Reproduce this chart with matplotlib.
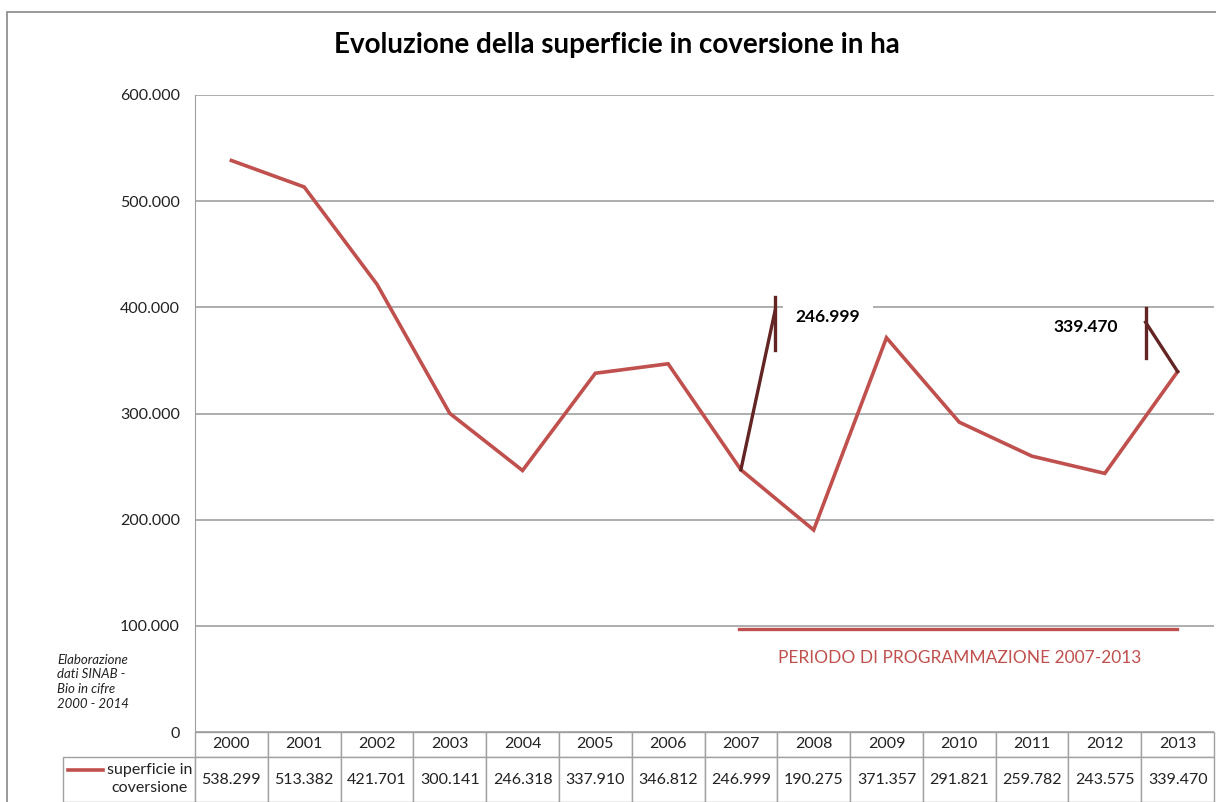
import matplotlib.pyplot as plt
from matplotlib.lines import Line2D
from matplotlib.patches import Rectangle

plt.rcParams['font.family'] = ['Lato', 'DejaVu Sans']

# Data
years = ['2000', '2001', '2002', '2003', '2004', '2005', '2006',
         '2007', '2008', '2009', '2010', '2011', '2012', '2013']
values = [538299, 513382, 421701, 300141, 246318, 337910, 346812,
          246999, 190275, 371357, 291821, 259782, 243575, 339470]
series_name = 'superficie in\ncoversione'
title = 'Evoluzione della superficie in coversione in ha'
period_label = 'PERIODO DI PROGRAMMAZIONE 2007-2013'
source_note = 'Elaborazione\ndati SINAB -\nBio in cifre\n2000 - 2014'

W, H = 1216, 802
fig = plt.figure(figsize=(W / 100, H / 100), dpi=100)
# axes placed in pixel terms
left, right, top, bottom = 195, 1214, 95, 732
ax = fig.add_axes([left / W, 1 - bottom / H, (right - left) / W, (bottom - top) / H])

line_color = '#C0504D'
ax.plot(range(len(values)), values, color=line_color, lw=2.6, solid_joinstyle='miter')

ax.set_xlim(-0.5, len(values) - 0.5)
ax.set_ylim(0, 600000)
yt = list(range(0, 600001, 100000))
ax.set_yticks(yt)
ax.set_yticklabels(['0' if v == 0 else f'{v // 1000}.000' for v in yt], fontsize=11.5, color='#222222')
ax.tick_params(axis='y', length=0, pad=11)
ax.set_xticks([])
ax.grid(axis='y', color='#A0A0A0', lw=1.2)
ax.set_axisbelow(True)
for s in ['top', 'right', 'bottom']:
    ax.spines[s].set_visible(False)
ax.spines['left'].set_color('#A0A0A0')

# callouts
dark = '#632523'
i07 = years.index('2007')
i13 = years.index('2013')
ax.plot([i07, 7.47], [values[i07], 397000], color=dark, lw=2.4)
ax.plot([7.47, 7.47], [360000, 410000], color=dark, lw=2.4)
ax.text(7.75, 391000, f"{values[i07]:,}".replace(',', '.'), fontsize=12.5, fontweight='bold',
        ha='left', va='center', bbox=dict(facecolor='white', edgecolor='none', pad=9))
ax.plot([i13, 12.56], [values[i13], 386000], color=dark, lw=2.4)
ax.plot([12.56, 12.56], [352000, 399000], color=dark, lw=2.4)
ax.text(12.18, 381500, f"{values[i13]:,}".replace(',', '.'), fontsize=12.5, fontweight='bold',
        ha='right', va='center')

# programming period bar
ax.plot([i07 - 0.02, i13 - 0.01], [97000, 97000], color=line_color, lw=2.4)
ax.text((i07 + i13) / 2, 69500, period_label, color=line_color, fontsize=12.5,
        ha='center', va='center')

# data table (row-label column sticks out left of the bbox)
col_w = 1 / len(years)
lab_w = (left - 63) / (right - left)
tbl = ax.table(cellText=[[f"{v:,}".replace(',', '.') for v in values]],
               colLabels=years, rowLabels=[''], cellLoc='center',
               colWidths=[col_w] * len(years),
               bbox=[0, -(70 / (bottom - top)), 1, 70 / (bottom - top)])
tbl._autoColumns = []
tbl.auto_set_font_size(False)
for (r, c), cell in tbl.get_celld().items():
    cell.set_edgecolor('#A0A0A0')
    cell.set_linewidth(1.0)
    cell.get_text().set_fontsize(11.5)
    cell.get_text().set_color('#222222')
    cell.set_height(25 if r == 0 else 45)
    cell.set_width(lab_w if c == -1 else col_w)

# legend inside row-label cell
fig.add_artist(Line2D([68 / W, 103 / W], [1 - 770 / H, 1 - 770 / H], color=line_color, lw=2.6))
fig.text(150 / W, 1 - 779 / H, series_name, fontsize=11.5, ha='center', va='center',
         color='#222222', linespacing=1.3)

# source note
fig.text(57 / W, 1 - 682 / H, source_note, fontsize=9.5, style='italic', ha='left', va='center',
         color='#222222', linespacing=1.3)

# title
fig.text(617 / W, 1 - 45 / H, title, fontsize=20, fontweight='bold', ha='center', va='center')

# outer chart border
fig.add_artist(Rectangle((7 / W, -0.05), 1.1, 1 - 12 / H + 0.05, transform=fig.transFigure,
                         fill=False, edgecolor='#888888', lw=1.2))

fig.savefig('out.png', dpi=100)
